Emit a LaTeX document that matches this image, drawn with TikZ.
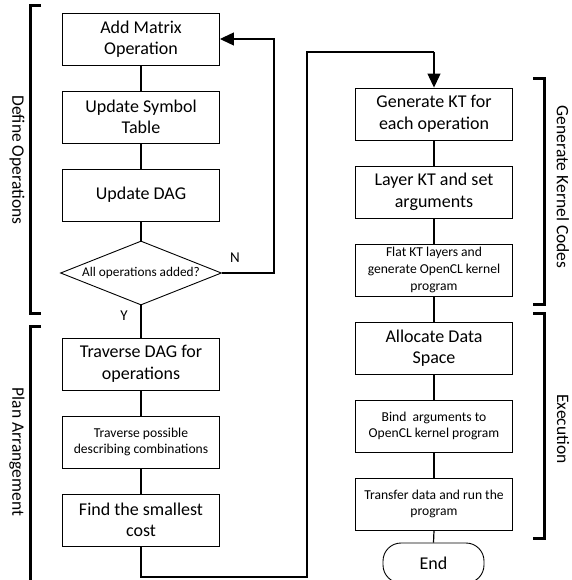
\documentclass[tikz,border=0pt]{standalone}
\usepackage{fontspec}
\setmainfont{Carlito}
\usetikzlibrary{arrows.meta,shapes.geometric}
\begin{document}
\begin{tikzpicture}[x=1pt,y=-1pt,
  box/.style={draw, line width=0.9pt, minimum width=157pt, minimum height=52pt, inner sep=0pt, align=center},
  big/.style={font=\fontsize{18}{21.5}\selectfont},
  small/.style={font=\fontsize{13.6}{16.8}\selectfont},
  conn/.style={line width=1.2pt},
  arr/.style={conn, -{Triangle[length=14pt,width=13pt]}},
  brk/.style={line width=3pt},
  side/.style={rotate=-90, font=\fontsize{17.5}{20}\selectfont},
  yn/.style={font=\fontsize{15}{18}\selectfont}
]
\useasboundingbox (0,0) rectangle (571,580);
% left column
\node[box,big] (b1) at (141,39) {Add Matrix\\Operation};
\node[box,big] (b2) at (141,117) {Update Symbol\\Table};
\node[box,big] (b3) at (141,195) {Update DAG};
\node[draw, diamond, line width=0.9pt, minimum width=161pt, minimum height=64pt, inner sep=0pt] (dec) at (141,273) {};
\node[font=\fontsize{13.3}{16}\selectfont] (dect) at (dec.center) {All operations added?};
\node[box,big] (b4) at (141,364) {Traverse DAG for\\operations};
\node[box,small] (b5) at (141,442) {Traverse possible\\describing combinations};
\node[box,big] (b6) at (141,520) {Find the smallest\\cost};
% right column
\node[box,big] (b7) at (434,114) {Generate KT for\\each operation};
\node[box,big] (b8) at (434,192) {Layer KT and set\\arguments};
\node[box,small] (b9) at (434,270) {Flat KT layers and\\generate OpenCL kernel\\program};
\node[box,big] (b10) at (434,348) {Allocate Data\\Space};
\node[box,small] (b11) at (434,426) {Bind\ \ arguments to\\OpenCL kernel program};
\node[box,small] (b12) at (434,504) {Transfer data and run the\\program};
\node[draw, line width=0.9pt, rounded corners=18pt, minimum width=101pt, minimum height=40pt, inner sep=0pt, big] (end) at (433.5,563) {End};
% connectors
\draw[conn] (b1.south) -- (b2.north);
\draw[conn] (b2.south) -- (b3.north);
\draw[conn] (b3.south) -- (dec.north);
\coordinate (nr) at (274,39);
\draw[arr] (dec.east) -| (nr) -- (b1.east);
\node[yn] (nlab) at (235,258) {N};
\draw[conn] (dec.south) -- (b4.north);
\node[yn] (ylab) at (124,316) {Y};
\draw[conn] (b4.south) -- (b5.north);
\draw[conn] (b5.south) -- (b6.north);
\coordinate (c1) at (141,577);
\coordinate (c2) at (307,577);
\coordinate (c3) at (307,52);
\coordinate (c4) at (434,52);
\draw[conn] (b6.south) -- (c1) -- (c2) -- (c3) -- (c4);
\draw[arr] (c4) -- (b7.north);
\draw[conn] (b7.south) -- (b8.north);
\draw[conn] (b8.south) -- (b9.north);
\draw[conn] (b9.south) -- (b10.north);
\draw[conn] (b10.south) -- (b11.north);
\draw[conn] (b11.south) -- (b12.north);
\draw[conn] (b12.south) -- (end.north);
% brackets
\draw[brk] (41,6) -- (30.5,6) -- (30.5,313) -- (41,313);
\draw[brk] (41,326) -- (30.5,326) -- (30.5,590);
\draw[brk] (533,79) -- (544.5,79) -- (544.5,304) -- (533,304);
\draw[brk] (533,313) -- (544.5,313) -- (544.5,538) -- (533,538);
\node[side] (sdef) at (17,160) {Define Operations};
\node[side] (splan) at (17,452) {Plan Arrangement};
\node[side] (sgen) at (563,187) {Generate Kernel Codes};
\node[side] (sexe) at (563,429) {Execution};
\end{tikzpicture}
\end{document}
